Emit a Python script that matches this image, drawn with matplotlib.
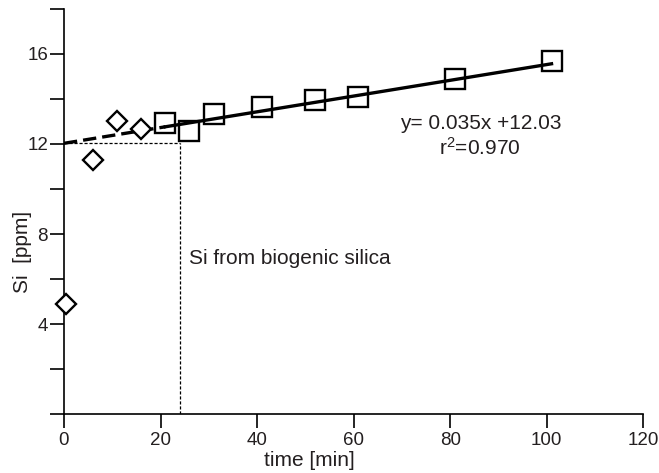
import matplotlib
matplotlib.use("Agg")
import matplotlib.pyplot as plt
import numpy as np

INK = "#231f20"
plt.rcParams["font.family"] = ["Liberation Sans", "DejaVu Sans"]
plt.rcParams["mathtext.default"] = "regular"

# early samples (diamonds) and linear-phase samples (squares)
t_early = [0.5, 6, 11, 16]
si_early = [4.9, 11.3, 13.0, 12.65]
t_lin = [21, 26, 31, 41, 52, 61, 81, 101]
si_lin = [12.92, 12.58, 13.33, 13.63, 13.97, 14.10, 14.89, 15.69]

slope, intercept, r2 = 0.035, 12.03, 0.970
t_cut = 24  # time where the intercept level meets the dissolution line

fig = plt.figure(figsize=(6.59, 4.73), dpi=100)
ax = fig.add_axes([0.0971, 0.1247, 0.879, 0.8563])

# fit: dashed extrapolation back to t=0, solid over the fitted range
xd = np.array([0, t_lin[0]])
xs = np.array([t_lin[0], t_lin[-1]])
ax.plot(xd, slope * xd + intercept, color="black", lw=2.4,
        dashes=(4, 1.8), zorder=2)
ax.plot(xs, slope * xs + intercept, color="black", lw=2.4, zorder=2)

# intercept guide lines
ax.plot([0, t_cut], [intercept, intercept], color="black", lw=0.9,
        dashes=(2.5, 1.5), zorder=1)
ax.plot([t_cut, t_cut], [0, intercept], color="black", lw=0.9,
        dashes=(2.5, 1.5), zorder=1)

ax.plot(t_early, si_early, ls="none", marker="D", ms=10.5, mfc="white",
        mec="black", mew=1.7, zorder=3, clip_on=False)
ax.plot(t_lin, si_lin, ls="none", marker="s", ms=14.5, mfc="none",
        mec="black", mew=1.7, zorder=3, clip_on=False)

ax.text(86.4, 12.92, f"y= {slope}x +{intercept}", ha="center", va="center",
        fontsize=15, color=INK)
ax.text(86.2, 11.82, f"r$^{{2}}$={r2:.3f}", ha="center", va="center",
        fontsize=15, color=INK)
ax.text(26.0, 6.93, "Si from biogenic silica", ha="left", va="center",
        fontsize=15, color=INK)

ax.set_xlim(0, 120)
ax.set_ylim(0, 18)
ax.set_xticks(np.arange(0, 121, 20))
ax.set_yticks(np.arange(0, 19, 2))
ax.set_yticklabels(["" if v % 4 or v == 0 else str(v)
                    for v in range(0, 19, 2)])
ax.tick_params(axis="both", direction="out", length=10, width=1.2,
               labelsize=13.5, labelcolor=INK)
ax.tick_params(axis="x", pad=3)
ax.tick_params(axis="y", pad=1.5)

for sp in ("top", "right"):
    ax.spines[sp].set_visible(False)
for sp in ("left", "bottom"):
    ax.spines[sp].set_linewidth(1.2)

ax.set_xlabel("time [min]", fontsize=15, color=INK)
ax.xaxis.set_label_coords(0.423, -0.092)
ax.set_ylabel("Si  [ppm]", fontsize=15, color=INK)
ax.yaxis.set_label_coords(-0.055, 0.40)

fig.savefig("out.png", dpi=100)
